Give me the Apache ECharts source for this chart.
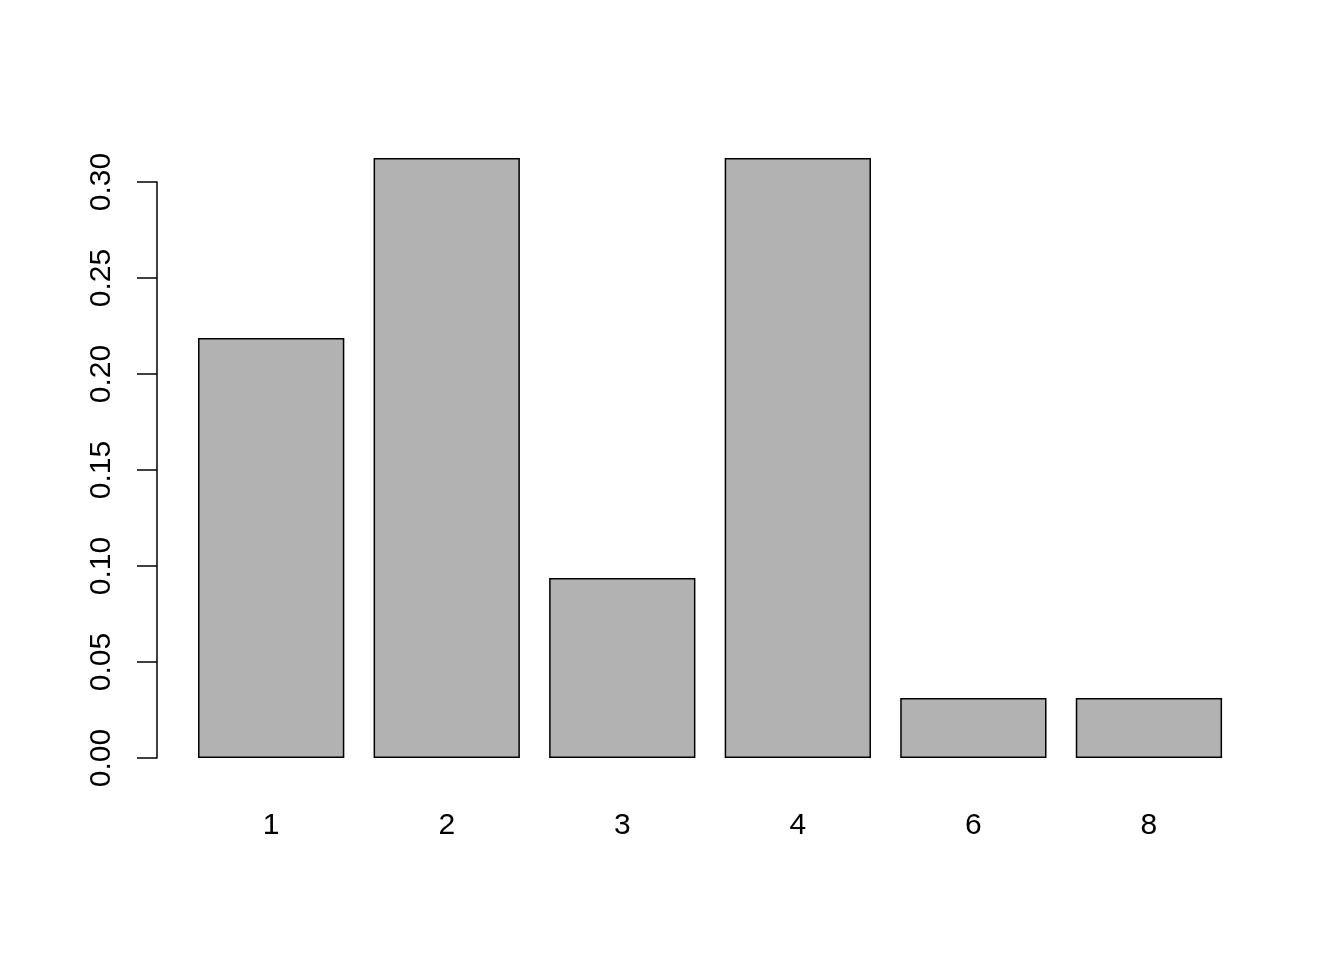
<!DOCTYPE html>
<html><head><meta charset="utf-8">
<script src="https://cdn.jsdelivr.net/npm/echarts@6/dist/echarts.min.js"></script>
<style>html,body{margin:0;padding:0;background:#fff}#c{width:1344px;height:960px}</style>
</head><body><div id="c"></div>
<script>
var categories = ['1','2','3','4','6','8'];
var values = [0.21875, 0.3125, 0.09375, 0.3125, 0.03125, 0.03125];
var yTicks = [0, 0.05, 0.10, 0.15, 0.20, 0.25, 0.30];

var chart = echarts.init(document.getElementById('c'));
chart.setOption({
  animation: false,
  backgroundColor: '#ffffff',
  grid: {left: 183.4, right: 107.3, top: 182, bottom: 202},
  xAxis: {
    type: 'category', data: categories,
    axisLine: {show: false}, axisTick: {show: false},
    axisLabel: {color: '#000', fontSize: 30, fontFamily: 'Liberation Sans, Arial, sans-serif', margin: 53}
  },
  yAxis: {
    type: 'value', min: yTicks[0], max: yTicks[yTicks.length-1], interval: 0.05,
    offset: 26.4,
    splitLine: {show: false},
    axisLine: {show: true, lineStyle: {color: '#000', width: 1.5}},
    axisTick: {show: true, length: 20, lineStyle: {color: '#000', width: 1.5}},
    axisLabel: {color: '#000', fontSize: 30, fontFamily: 'Liberation Sans, Arial, sans-serif', rotate: 90, margin: 40,
      formatter: function(v){ return v.toFixed(2); }}
  },
  series: [{
    type: 'bar', data: values, barWidth: 146.3, clip: false,
    itemStyle: {color: '#b2b2b2', borderColor: '#000', borderWidth: 1.5}
  }]
});
</script></body></html>
